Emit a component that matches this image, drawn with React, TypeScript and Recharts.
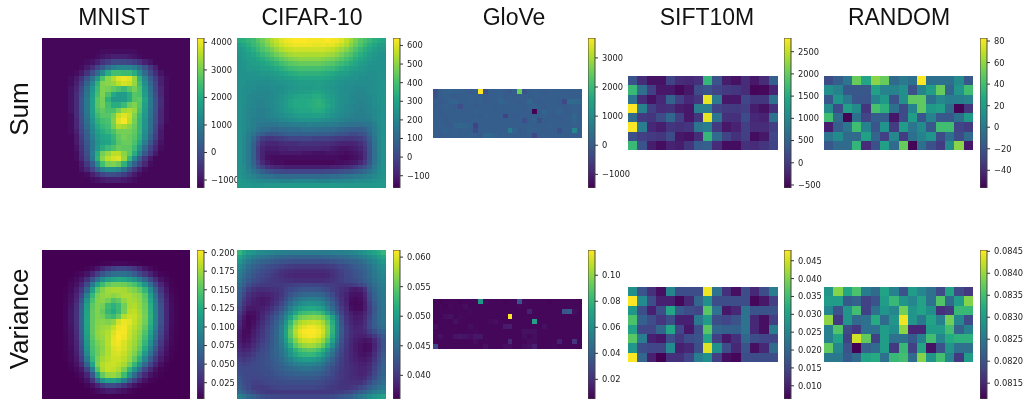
import {
  Bar,
  BarChart,
  ReferenceArea,
  Scatter,
  ScatterChart,
  XAxis,
  YAxis,
} from "recharts";

// heat values are stored in the units given by each panel's `unit`

const mnistSum = [
  [-12,-12,-12,-12,-12,-12,-12,-12,-12,-12,-12,-12,-12,-12,-12,-12,-12,-12,-12,-12,-12,-12,-12,-12,-12,-12,-12,-12],
  [-12,-12,-12,-12,-12,-12,-12,-12,-12,-12,-12,-12,-12,-12,-12,-12,-12,-12,-12,-12,-12,-12,-12,-12,-12,-12,-12,-12],
  [-12,-12,-12,-12,-12,-12,-12,-12,-12,-12,-12,-11,-11,-11,-11,-11,-11,-11,-12,-12,-12,-12,-12,-12,-12,-12,-12,-12],
  [-12,-12,-12,-12,-12,-12,-12,-12,-12,-12,-11,-10,-9,-8,-8,-8,-9,-10,-11,-12,-12,-12,-12,-12,-12,-12,-12,-12],
  [-12,-12,-12,-12,-12,-12,-12,-12,-11,-10,-8,-5,-3,-1,-1,-1,-2,-3,-5,-8,-10,-12,-12,-12,-12,-12,-12,-12],
  [-12,-12,-12,-12,-12,-12,-12,-11,-9,-6,-2,2,7,10,12,12,12,10,6,1,-4,-8,-12,-12,-12,-12,-12,-12],
  [-12,-12,-12,-12,-12,-12,-11,-9,-5,0,6,13,21,25,25,24,24,21,14,6,-1,-6,-10,-12,-12,-12,-12,-12],
  [-12,-12,-12,-12,-12,-11,-9,-5,1,8,16,26,32,35,39,40,39,33,22,12,3,-3,-8,-11,-12,-12,-12,-12],
  [-12,-12,-12,-12,-12,-11,-8,-3,4,12,22,31,32,33,36,38,37,33,24,14,5,-2,-8,-11,-12,-12,-12,-12],
  [-12,-12,-12,-12,-12,-10,-7,-1,7,15,24,31,30,28,26,24,27,30,26,16,7,-1,-7,-11,-12,-12,-12,-12],
  [-12,-12,-12,-12,-12,-10,-6,0,8,17,25,31,26,20,17,17,21,27,26,17,8,0,-7,-11,-12,-12,-12,-12],
  [-12,-12,-12,-12,-12,-10,-6,1,9,18,27,30,22,16,16,17,21,27,28,19,9,1,-6,-11,-12,-12,-12,-12],
  [-12,-12,-12,-12,-12,-10,-6,1,9,18,27,30,25,21,21,24,29,31,27,18,9,1,-6,-11,-12,-12,-12,-12],
  [-12,-12,-12,-12,-12,-10,-6,1,9,18,26,28,26,26,30,34,35,33,26,17,8,1,-7,-11,-12,-12,-12,-12],
  [-12,-12,-12,-12,-12,-11,-6,0,8,17,24,27,27,30,37,39,37,31,24,16,8,0,-7,-11,-12,-12,-12,-12],
  [-12,-12,-12,-12,-12,-11,-7,0,7,15,22,25,26,31,39,41,36,30,23,15,7,0,-7,-11,-12,-12,-12,-12],
  [-12,-12,-12,-12,-12,-11,-7,-1,6,13,20,23,25,30,35,34,32,29,23,15,7,-1,-8,-12,-12,-12,-12,-12],
  [-12,-12,-12,-12,-12,-11,-8,-2,4,12,18,21,23,26,30,30,30,28,23,14,6,-2,-9,-12,-12,-12,-12,-12],
  [-12,-12,-12,-12,-12,-12,-9,-3,3,10,16,19,20,23,28,30,29,27,22,13,4,-3,-9,-12,-12,-12,-12,-12],
  [-12,-12,-12,-12,-12,-12,-9,-4,2,9,15,18,19,22,27,29,29,26,20,10,2,-5,-10,-12,-12,-12,-12,-12],
  [-12,-12,-12,-12,-12,-12,-10,-5,1,9,16,21,24,26,29,28,28,24,15,6,-2,-7,-11,-12,-12,-12,-12,-12],
  [-12,-12,-12,-12,-12,-12,-11,-6,0,10,21,30,33,36,36,32,28,21,11,2,-4,-9,-12,-12,-12,-12,-12,-12],
  [-12,-12,-12,-12,-12,-12,-11,-7,-1,9,22,32,36,38,39,33,23,12,3,-4,-9,-12,-12,-12,-12,-12,-12,-12],
  [-12,-12,-12,-12,-12,-12,-12,-9,-4,3,14,25,30,31,29,22,12,4,-2,-7,-11,-12,-12,-12,-12,-12,-12,-12],
  [-12,-12,-12,-12,-12,-12,-12,-10,-7,-2,5,11,14,14,12,7,1,-4,-8,-11,-12,-12,-12,-12,-12,-12,-12,-12],
  [-12,-12,-12,-12,-12,-12,-12,-12,-11,-8,-5,-2,0,0,-1,-3,-6,-9,-11,-12,-12,-12,-12,-12,-12,-12,-12,-12],
  [-12,-12,-12,-12,-12,-12,-12,-12,-12,-11,-10,-9,-8,-8,-8,-9,-10,-11,-12,-12,-12,-12,-12,-12,-12,-12,-12,-12],
  [-12,-12,-12,-12,-12,-12,-12,-12,-12,-12,-12,-12,-12,-12,-12,-12,-12,-12,-12,-12,-12,-12,-12,-12,-12,-12,-12,-12],
];

const mnistVar = [
  [3,3,3,3,3,3,3,3,3,3,3,3,3,3,3,3,3,3,3,3,3,3,3,3,3,3,3,3],
  [3,3,3,3,3,3,3,3,3,3,3,3,3,3,3,3,3,3,3,3,3,3,3,3,3,3,3,3],
  [3,3,3,3,3,3,3,3,3,3,3,5,6,7,7,7,6,5,4,3,3,3,3,3,3,3,3,3],
  [3,3,3,3,3,3,3,3,5,8,15,25,35,42,45,45,42,35,25,15,8,5,3,3,3,3,3,3],
  [3,3,3,3,3,3,5,8,14,25,40,55,68,75,78,78,72,62,48,35,22,12,6,4,3,3,3,3],
  [3,3,3,3,3,5,9,16,30,52,78,100,115,122,125,122,115,105,90,70,48,28,14,7,4,3,3,3],
  [3,3,3,3,3,7,13,24,48,85,118,140,155,160,160,158,152,145,130,105,75,45,24,11,5,3,3,3],
  [3,3,3,3,4,9,18,35,68,115,150,165,175,178,178,176,170,165,155,135,100,65,35,16,6,4,3,3],
  [3,3,3,3,5,11,22,45,90,135,162,170,172,168,172,178,178,172,168,150,115,78,42,19,8,4,3,3],
  [3,3,3,3,5,12,26,55,105,145,165,168,160,148,155,170,178,176,170,155,122,85,48,22,9,5,3,3],
  [3,3,3,3,6,14,30,62,115,152,165,160,140,130,140,160,178,180,172,158,128,90,52,24,10,5,3,3],
  [3,3,3,3,6,15,32,66,118,155,165,155,135,125,138,162,182,184,175,160,130,92,54,25,10,5,3,3],
  [3,3,3,3,6,15,32,68,120,155,165,160,145,140,155,180,188,186,178,162,132,94,55,25,10,5,3,3],
  [3,3,3,3,6,15,32,68,122,155,166,168,165,170,190,198,195,185,175,160,130,92,54,25,10,5,3,3],
  [3,3,3,3,6,14,30,66,120,155,168,172,175,185,198,200,190,182,172,155,125,88,50,24,9,5,3,3],
  [3,3,3,3,6,13,28,64,118,155,170,175,180,192,202,200,188,178,168,148,118,82,46,22,8,4,3,3],
  [3,3,3,3,5,12,26,60,115,152,168,172,182,195,203,198,186,176,165,142,110,75,42,20,8,4,3,3],
  [3,3,3,3,5,11,24,55,110,148,162,170,182,196,200,192,182,174,160,135,102,68,36,17,7,4,3,3],
  [3,3,3,3,5,10,22,50,105,145,158,168,180,192,196,190,180,170,155,125,90,58,30,14,6,4,3,3],
  [3,3,3,3,4,9,20,45,98,142,158,170,180,190,192,186,176,164,145,112,78,48,24,11,5,3,3,3],
  [3,3,3,3,4,8,17,38,85,135,162,175,182,188,188,182,172,155,130,95,62,36,18,8,4,3,3,3],
  [3,3,3,3,3,6,13,28,65,118,165,180,186,188,184,176,160,135,105,72,44,24,11,5,3,3,3,3],
  [3,3,3,3,3,4,8,17,42,88,148,178,186,184,178,162,135,105,75,45,26,13,6,4,3,3,3,3],
  [3,3,3,3,3,3,5,10,24,58,115,155,170,172,165,140,105,72,45,26,14,7,4,3,3,3,3,3],
  [3,3,3,3,3,3,3,6,14,32,70,105,118,120,110,88,60,40,24,13,6,4,3,3,3,3,3,3],
  [3,3,3,3,3,3,3,3,6,12,24,38,48,50,44,34,22,13,7,4,3,3,3,3,3,3,3,3],
  [3,3,3,3,3,3,3,3,3,5,9,14,18,18,15,11,7,4,3,3,3,3,3,3,3,3,3,3],
  [3,3,3,3,3,3,3,3,3,3,3,3,3,3,3,3,3,3,3,3,3,3,3,3,3,3,3,3],
];

const cifarSum = [
  [33,34,36,38,42,46,50,54,57,60,62,63,64,64,64,63,63,63,63,64,63,62,60,56,52,47,43,40,37,34,32,31],
  [29,31,34,37,40,44,48,52,55,58,60,61,62,62,62,62,61,61,62,61,61,59,57,54,49,45,41,37,34,31,28,28],
  [26,28,31,34,37,41,44,47,51,54,56,57,58,58,58,58,58,58,58,57,56,54,52,49,45,41,37,34,31,28,26,26],
  [25,27,29,31,34,37,40,43,46,49,51,53,54,54,54,54,54,54,54,53,52,50,47,44,41,37,34,31,28,26,25,24],
  [24,26,28,29,31,33,36,38,41,44,46,48,49,50,50,50,50,50,49,48,47,45,43,40,37,34,31,29,27,25,24,24],
  [24,25,27,28,29,30,32,34,36,39,41,43,44,45,45,45,45,45,44,43,42,40,38,36,33,31,28,27,25,24,24,24],
  [24,25,26,26,27,28,29,30,32,34,36,38,39,40,40,40,40,40,39,38,37,35,33,31,29,28,26,25,24,24,24,24],
  [24,24,25,25,25,26,26,27,28,30,31,33,34,35,35,35,35,35,34,33,32,30,29,28,26,25,24,24,23,23,24,24],
  [24,24,24,24,24,24,24,25,26,27,28,29,30,31,31,31,31,31,31,30,29,27,26,25,24,24,23,23,22,23,24,24],
  [24,24,23,23,22,22,22,23,24,25,25,26,27,28,28,28,28,29,28,27,26,25,24,23,23,22,22,22,22,23,24,25],
  [24,23,22,22,21,21,21,22,22,23,24,25,26,27,27,27,28,28,27,26,25,24,23,22,22,21,21,21,22,23,24,25],
  [24,23,22,21,20,20,20,21,22,23,24,26,27,28,28,29,30,30,29,27,26,24,23,22,21,21,20,21,22,23,24,25],
  [24,23,21,20,20,20,20,21,22,24,26,28,30,31,31,31,33,33,31,29,27,25,23,22,21,20,20,20,21,22,24,25],
  [24,23,21,20,19,19,20,21,23,25,27,30,32,32,32,33,34,35,33,30,28,25,23,22,21,20,19,20,21,22,24,25],
  [24,22,21,20,19,19,20,21,22,25,27,30,32,32,32,33,34,35,34,31,28,25,23,21,20,19,19,19,20,22,23,25],
  [24,22,20,19,18,18,19,20,22,24,26,28,30,31,31,31,33,33,32,29,26,24,22,21,20,19,18,19,20,21,23,24],
  [24,22,20,19,18,18,19,20,21,22,24,25,27,28,28,28,29,29,28,26,24,22,21,20,19,18,18,18,19,21,23,24],
  [24,22,20,18,17,17,17,18,19,20,21,22,23,24,24,24,24,24,23,22,21,20,19,18,17,17,17,17,18,20,22,24],
  [24,22,20,18,16,15,15,15,15,16,16,17,18,18,18,19,18,18,18,17,17,16,15,14,13,13,13,14,15,18,22,24],
  [24,22,19,17,14,12,11,10,10,11,11,12,12,12,13,13,13,12,12,11,11,10,9,8,7,7,7,9,12,17,21,24],
  [24,21,18,14,10,7,5,4,5,6,7,8,8,8,8,8,8,7,7,7,6,5,4,3,2,2,3,5,10,16,21,24],
  [24,21,17,11,4,-2,-4,-4,-3,-2,-1,0,0,0,0,0,-1,-1,-1,-1,-2,-3,-3,-4,-4,-3,-2,1,7,15,21,24],
  [24,21,16,9,0,-6,-8,-8,-8,-7,-6,-6,-6,-5,-5,-5,-5,-5,-6,-6,-7,-8,-9,-9,-9,-8,-6,-2,5,14,20,24],
  [24,21,16,8,-2,-8,-10,-10,-10,-9,-9,-8,-8,-8,-8,-8,-8,-8,-9,-9,-10,-11,-12,-12,-11,-10,-8,-4,4,13,20,24],
  [24,21,16,8,-2,-9,-12,-12,-12,-11,-11,-11,-11,-11,-12,-12,-13,-13,-13,-12,-12,-13,-13,-14,-13,-12,-10,-5,3,13,20,24],
  [24,21,16,8,-2,-9,-13,-14,-14,-14,-14,-14,-14,-14,-14,-14,-14,-14,-14,-14,-14,-14,-15,-15,-14,-13,-11,-5,3,13,20,24],
  [24,21,16,9,0,-7,-11,-13,-14,-14,-15,-15,-15,-15,-15,-15,-15,-15,-15,-15,-15,-14,-14,-13,-12,-11,-8,-3,5,14,20,24],
  [24,22,17,11,4,-1,-5,-7,-8,-9,-10,-10,-10,-10,-10,-10,-10,-10,-10,-10,-9,-9,-8,-7,-5,-3,0,3,9,16,21,24],
  [24,22,19,15,11,8,5,3,2,1,0,0,0,0,0,0,0,0,0,1,1,2,3,4,5,7,9,11,14,18,22,24],
  [25,23,21,19,17,15,14,13,12,11,11,11,11,11,11,11,11,11,11,11,12,12,13,14,15,16,17,18,19,21,23,25],
  [26,25,24,22,21,21,20,20,20,19,19,19,20,20,20,20,20,19,19,19,20,20,20,21,21,22,22,22,23,24,25,26],
  [27,26,26,25,25,25,26,26,26,27,27,27,27,27,27,27,27,27,27,27,27,27,26,26,26,26,26,26,26,26,26,27],
];

const cifarVar = [
  [525,510,495,490,480,478,476,474,470,468,466,465,464,464,464,464,464,464,464,465,466,467,468,470,474,478,484,490,498,505,515,525],
  [505,490,478,468,462,458,454,450,446,444,442,441,440,440,440,440,440,440,441,442,444,446,448,450,454,458,464,470,478,488,500,510],
  [490,475,462,452,446,440,436,432,428,425,423,421,420,420,420,420,420,420,420,421,423,426,430,434,438,442,448,456,464,474,486,495],
  [478,464,450,440,434,428,422,418,414,410,406,404,402,402,402,402,402,402,402,404,406,410,414,420,426,432,438,446,454,466,478,485],
  [470,456,442,432,426,420,414,410,404,398,394,392,390,390,390,390,390,390,390,392,396,402,408,414,420,426,432,440,450,462,474,480],
  [464,450,436,426,420,415,410,404,400,395,390,388,386,386,386,386,386,386,386,388,394,400,406,412,418,424,430,438,448,460,470,476],
  [458,444,430,420,414,410,406,402,400,398,396,394,392,392,392,392,392,392,392,394,398,402,406,412,416,420,426,434,444,456,466,472],
  [450,436,420,410,405,402,402,402,402,402,404,406,408,410,410,410,410,410,408,406,404,402,400,400,402,406,412,422,436,450,462,468],
  [442,424,406,396,392,392,392,394,396,400,408,414,420,424,426,426,426,424,420,414,406,400,394,390,380,378,382,396,428,444,458,464],
  [436,414,396,388,384,382,384,386,392,400,412,424,434,440,444,446,446,444,438,428,414,402,392,384,374,372,374,388,420,440,456,462],
  [430,406,390,382,378,376,378,384,392,404,420,436,450,458,464,468,468,464,456,442,426,408,394,382,370,368,370,382,414,436,452,460],
  [424,400,386,380,378,376,380,388,398,412,430,450,468,478,484,488,488,484,474,456,436,416,398,384,368,366,368,380,408,432,450,458],
  [414,392,378,376,378,380,386,396,408,424,444,466,488,500,508,512,512,506,494,472,448,424,404,388,370,368,368,380,404,428,448,458],
  [404,384,370,370,376,384,394,406,420,438,460,484,510,526,534,538,540,536,522,498,468,436,410,392,380,374,376,386,406,430,450,458],
  [396,376,364,368,376,388,402,414,430,450,476,506,536,554,562,566,568,566,556,536,504,460,422,398,384,378,380,390,410,432,450,458],
  [392,372,364,370,380,392,406,420,436,458,490,528,562,578,586,590,592,588,576,552,516,466,426,400,386,380,382,394,414,434,450,456],
  [386,370,366,374,384,396,410,424,440,466,500,540,576,592,600,606,606,600,588,562,522,470,430,404,390,384,386,396,414,432,446,452],
  [380,368,368,378,388,400,412,426,444,470,506,548,584,602,610,612,612,606,592,564,522,470,430,406,392,386,386,392,406,420,434,442],
  [378,368,370,380,390,402,414,428,444,470,506,546,580,598,606,610,608,602,586,558,516,466,428,404,390,384,382,382,390,402,418,430],
  [380,370,374,384,394,406,416,428,444,466,498,534,564,584,592,596,594,586,570,542,504,458,424,402,388,380,376,372,376,388,408,424],
  [384,376,380,390,400,410,420,430,444,460,486,516,546,562,572,576,574,566,548,520,484,446,418,400,386,378,372,368,370,384,406,424],
  [390,384,388,398,406,414,422,432,444,456,474,496,520,536,544,548,546,536,518,492,462,434,412,398,386,378,372,368,370,386,408,426],
  [398,392,396,404,412,418,424,432,442,454,470,488,508,520,524,526,524,514,498,476,452,428,410,396,386,380,374,372,376,392,412,430],
  [406,400,404,410,416,420,424,430,438,448,460,472,486,494,498,498,496,488,474,456,438,420,406,396,388,382,378,376,382,398,418,434],
  [412,408,410,414,418,420,424,428,434,442,450,458,466,472,474,474,472,466,456,442,428,414,404,396,390,386,382,382,388,404,422,438],
  [418,414,414,416,418,420,422,426,430,436,442,446,450,454,456,456,454,450,442,432,420,410,402,396,392,388,384,384,392,408,426,440],
  [422,416,414,414,416,418,420,422,426,430,434,436,438,440,442,442,440,436,430,424,414,406,400,396,392,388,384,386,396,412,430,442],
  [426,418,414,412,412,414,416,418,422,424,426,428,428,430,430,430,430,426,422,416,410,404,400,396,392,390,388,392,404,420,436,446],
  [430,420,412,408,408,410,412,414,416,418,420,420,420,420,420,420,420,418,414,410,406,402,398,396,394,394,396,404,418,432,444,452],
  [436,424,414,406,404,404,406,408,410,412,412,412,412,412,412,412,412,410,408,404,402,400,398,398,400,404,412,422,434,446,456,462],
  [448,436,424,414,408,404,402,402,402,402,402,402,402,402,402,402,402,402,402,402,402,404,406,410,416,424,434,444,454,464,472,478],
  [470,458,446,436,428,422,418,416,414,412,412,412,412,412,412,412,412,412,414,416,418,422,426,432,440,450,460,470,480,490,498,505],
];

const gloveSum = [
  [-20,5,15,15,10,10,5,0,5,368,-20,5,5,10,0,-5,5,250,-15,5,10,5,0,5,5,5,5,5,5,5],
  [-15,5,10,5,0,5,5,10,5,5,0,5,5,10,0,5,0,5,5,5,5,5,5,5,5,5,5,0,5,5],
  [5,0,5,15,20,5,5,10,5,10,0,5,5,20,10,5,5,0,5,25,5,0,5,5,5,0,-35,30,30,25],
  [0,5,10,5,0,-25,5,5,0,5,5,5,0,5,5,5,5,5,0,10,15,5,0,5,5,5,0,5,10,5],
  [5,0,5,5,5,5,0,5,10,5,5,5,5,5,0,5,5,5,5,5,-146,5,20,5,5,15,5,0,10,5],
  [5,5,0,5,5,5,5,5,5,0,10,5,5,5,-45,5,0,5,5,5,5,5,10,5,0,5,5,5,25,5],
  [5,5,0,5,5,10,5,5,5,5,5,5,5,5,5,5,5,5,-20,5,15,-20,5,5,5,0,5,5,20,5],
  [5,10,5,0,20,25,20,10,-45,5,5,5,5,5,5,5,5,5,5,10,5,5,5,10,5,5,5,5,10,5],
  [5,5,15,5,10,5,10,5,-30,5,5,5,5,5,5,70,20,0,5,15,10,5,5,5,5,-20,5,5,90,5],
  [5,0,5,5,5,5,5,10,5,0,25,25,15,5,10,5,5,5,5,10,-35,5,10,5,5,5,5,5,5,5],
];

const gloveVar = [
  [7,6,7,7,7,6,7,7,7,65,8,7,7,7,6,7,7,35,8,7,7,7,7,6,7,7,7,7,7,7],
  [7,7,6,8,7,7,9,7,7,7,7,7,7,7,7,7,7,8,7,7,7,7,7,7,7,7,7,7,7,7],
  [7,7,7,7,7,7,7,8,7,7,7,7,7,7,7,7,7,7,7,15,7,7,7,7,7,7,35,38,9,7],
  [7,7,9,10,7,8,7,7,7,7,7,7,7,7,7,119,7,7,7,7,7,7,7,7,7,7,7,7,7,7],
  [6,7,7,7,10,7,7,7,7,7,7,8,9,7,7,7,7,7,7,7,70,7,7,7,7,7,7,7,7,7],
  [9,7,7,7,7,7,7,9,7,7,7,7,7,7,13,14,7,7,7,7,7,7,10,7,7,7,7,7,7,7],
  [7,7,7,7,7,7,7,7,8,7,7,7,7,7,7,7,7,7,10,10,10,7,7,7,7,7,7,7,7,7],
  [7,10,7,7,11,12,11,9,12,12,7,7,7,7,7,7,7,7,9,7,9,7,7,7,7,7,7,7,7,7],
  [7,7,7,7,7,7,7,7,9,7,7,7,7,7,7,18,7,7,7,9,9,7,7,7,7,15,7,7,22,7],
  [30,7,7,7,7,7,7,7,7,7,10,7,7,7,9,9,7,7,9,10,15,7,7,7,8,7,7,7,7,7],
];

const siftSum = [
  [30,-15,-40,-40,10,-15,-20,-10,165,30,-30,-40,-15,-35,-15,45],
  [170,65,5,-35,-35,-50,-35,20,30,10,0,-5,-15,-52,-50,-25],
  [70,-15,-40,-20,50,5,-20,-5,268,80,-35,-35,15,-5,-5,70],
  [280,90,5,-15,-10,-30,-35,85,85,10,0,0,5,-30,-40,-10],
  [60,0,-5,20,55,5,-35,-5,268,75,-10,-10,20,-20,-25,70],
  [280,85,-20,-30,-5,-10,-5,75,85,0,-35,-25,5,-15,-15,5],
  [25,5,0,-5,20,-35,-40,-15,165,60,10,-10,5,-45,-35,15],
  [170,30,-30,-45,-25,-30,-5,40,45,-15,-45,-45,-10,-15,-5,10],
];

const siftVar = [
  [270,170,120,80,250,160,160,160,470,220,120,80,160,110,160,240],
  [480,260,160,100,100,70,110,200,270,160,160,160,160,70,90,140],
  [280,160,100,160,310,180,160,150,370,220,90,110,220,170,170,170],
  [360,190,160,130,160,100,100,230,290,160,150,170,220,110,80,140],
  [300,150,150,200,310,150,90,160,370,200,190,190,220,110,80,240],
  [370,240,100,90,160,130,160,170,310,140,90,120,200,160,150,150],
  [280,160,150,150,260,100,110,160,460,270,160,110,170,80,110,210],
  [480,200,100,63,120,120,150,240,270,140,80,70,160,160,160,160],
];

const randomSum = [
  [-25,-15,-2,50,25,58,50,-8,0,-5,83,-5,-5,-5,10,-18],
  [12,5,-18,-18,-18,22,5,5,12,-22,5,20,50,-12,15,40],
  [-18,15,0,-20,-20,5,18,-22,12,48,48,-5,8,2,2,5],
  [10,-25,22,10,-35,42,32,-5,-25,5,48,18,22,-8,-55,-35],
  [40,-8,-55,-5,-28,-15,-15,-48,-25,20,-20,5,-18,-18,-5,18],
  [-45,-15,-2,40,5,-20,15,-32,20,-2,10,-18,40,40,-28,-32],
  [-2,10,-8,-8,22,-12,-30,8,-32,-5,5,15,-25,-5,-25,-8],
  [-18,-8,-8,35,-40,-22,22,-8,50,-55,-5,-22,-32,10,58,-48],
];

const randomVar = [
  [8290,8390,8315,8355,8255,8230,8310,8260,8200,8300,8270,8240,8190,8310,8190,8170],
  [8300,8300,8210,8220,8180,8200,8300,8340,8290,8270,8310,8240,8360,8230,8300,8390],
  [8270,8200,8290,8350,8180,8240,8290,8270,8380,8290,8310,8280,8160,8170,8340,8340],
  [8395,8170,8290,8230,8240,8320,8230,8290,8445,8290,8250,8310,8260,8380,8270,8190],
  [8260,8360,8190,8170,8240,8240,8300,8280,8395,8150,8150,8300,8300,8350,8220,8260],
  [8260,8310,8180,8430,8370,8180,8300,8240,8240,8210,8260,8350,8270,8320,8330,8330],
  [8370,8270,8200,8115,8220,8230,8300,8170,8340,8180,8310,8130,8200,8290,8240,8240],
  [8250,8250,8210,8230,8310,8320,8240,8340,8350,8230,8390,8290,8350,8270,8170,8300],
];

const titles = ["MNIST", "CIFAR-10", "GloVe", "SIFT10M", "RANDOM"];
const rowNames = ["Sum", "Variance"];

const mnistSumTicks = [-1000, 0, 1000, 2000, 3000, 4000];
const cifarSumTicks = [-100, 0, 100, 200, 300, 400, 500, 600];
const gloveSumTicks = [-1000, 0, 1000, 2000, 3000];
const siftSumTicks = [-500, 0, 500, 1000, 1500, 2000, 2500];
const randomSumTicks = [-40, -20, 0, 20, 40, 60, 80];
const mnistVarTicks = [0.025, 0.05, 0.075, 0.1, 0.125, 0.15, 0.175, 0.2];
const cifarVarTicks = [0.04, 0.045, 0.05, 0.055, 0.06];
const gloveVarTicks = [0.02, 0.04, 0.06, 0.08, 0.1];
const siftVarTicks = [0.01, 0.015, 0.02, 0.025, 0.03, 0.035, 0.04, 0.045];
const randomVarTicks = [0.0815, 0.082, 0.0825, 0.083, 0.0835, 0.084, 0.0845];

const viridis = ["#440154", "#482475", "#414487", "#355f8d", "#2a788e", "#21918c", "#22a884", "#44bf70", "#7ad151", "#bddf26", "#fde725"];

const columnsX = [
  { x: 42, w: 148, bar: 197, center: 114 },
  { x: 237, w: 149, bar: 393, center: 312 },
  { x: 433, w: 149, bar: 588, center: 514 },
  { x: 628, w: 150, bar: 784, center: 707 },
  { x: 824, w: 149, bar: 980, center: 899 },
];

const sumRow = { barY: 38, barH: 150 };
const varRow = { barY: 250, barH: 149 };

const panels = [
  { col: 0, row: sumRow, y: 38, h: 150, rows: mnistSum, unit: 100, domain: [-1290, 4160], ticks: mnistSumTicks, digits: 0 },
  { col: 1, row: sumRow, y: 38, h: 150, rows: cifarSum, unit: 10, domain: [-166, 640], ticks: cifarSumTicks, digits: 0 },
  { col: 2, row: sumRow, y: 89, h: 49, rows: gloveSum, unit: 10, domain: [-1468, 3684], ticks: gloveSumTicks, digits: 0 },
  { col: 3, row: sumRow, y: 76, h: 74, rows: siftSum, unit: 10, domain: [-568, 2808], ticks: siftSumTicks, digits: 0 },
  { col: 4, row: sumRow, y: 76, h: 74, rows: randomSum, unit: 1, domain: [-56.4, 82.8], ticks: randomSumTicks, digits: 0 },
  { col: 0, row: varRow, y: 250, h: 149, rows: mnistVar, unit: 0.001, domain: [0.0031, 0.2035], ticks: mnistVarTicks, digits: 3 },
  { col: 1, row: varRow, y: 250, h: 149, rows: cifarVar, unit: 0.0001, domain: [0.036, 0.0612], ticks: cifarVarTicks, digits: 3 },
  { col: 2, row: varRow, y: 299, h: 50, rows: gloveVar, unit: 0.001, domain: [0.0049, 0.1194], ticks: gloveVarTicks, digits: 2 },
  { col: 3, row: varRow, y: 287, h: 75, rows: siftVar, unit: 0.0001, domain: [0.0063, 0.048], ticks: siftVarTicks, digits: 3 },
  { col: 4, row: varRow, y: 287, h: 75, rows: randomVar, unit: 0.00001, domain: [0.08114, 0.08453], ticks: randomVarTicks, digits: 4 },
];

const hexToRgb = (hex: string) => [1, 3, 5].map((i) => parseInt(hex.slice(i, i + 2), 16));

const colorAt = (t: number) => {
  const pos = Math.min(1, Math.max(0, t)) * (viridis.length - 1);
  const i = Math.min(Math.floor(pos), viridis.length - 2);
  const a = hexToRgb(viridis[i]);
  const b = hexToRgb(viridis[i + 1]);
  const mix = a.map((v, k) => Math.round(v + (b[k] - v) * (pos - i)));
  return `rgb(${mix.join(",")})`;
};

const Heatmap = ({ panel }: any) => {
  const { x, w } = columnsX[panel.col];
  const { y, h, rows, unit, domain } = panel;
  const nRows = rows.length;
  const nCols = rows[0].length;
  const cellW = w / nCols;
  const cellH = h / nRows;
  const cells = rows.flatMap((row: number[], r: number) =>
    row.map((value, c) => ({ col: c + 0.5, row: r + 0.5, value: value * unit }))
  );

  const drawCell = (p: any) => (
    <rect
      x={p.cx - cellW / 2}
      y={p.cy - cellH / 2}
      width={cellW + 0.01}
      height={cellH + 0.01}
      shapeRendering="crispEdges"
      fill={colorAt((p.payload.value - domain[0]) / (domain[1] - domain[0]))}
    />
  );

  return (
    <div style={{ position: "absolute", left: x, top: y, filter: "blur(0.4px)" }}>
      <ScatterChart width={w} height={h} margin={{ top: 0, right: 0, bottom: 0, left: 0 }}>
        <XAxis type="number" dataKey="col" domain={[0, nCols]} hide />
        <YAxis type="number" dataKey="row" domain={[0, nRows]} reversed hide />
        <Scatter data={cells} isAnimationActive={false} shape={drawCell} />
        <ReferenceArea x1={0} x2={nCols} y1={0} y2={nRows} fill="none" stroke="#c9c3d6" strokeWidth={1} />
      </ScatterChart>
    </div>
  );
};

const AXIS_W = 50;
const BAR_W = 7;
const BAR_PAD = 8; // room above and below the bar so end tick labels are not cut

const ColorBar = ({ panel, id }: any) => {
  const { bar } = columnsX[panel.col];
  const { barY, barH } = panel.row;
  const { domain, ticks, digits } = panel;
  const formatTick = (v: number) => (v < 0 ? "\u2212" : "") + Math.abs(v).toFixed(digits);

  return (
    <div style={{ position: "absolute", left: bar, top: barY - BAR_PAD }}>
      <BarChart
        width={BAR_W + AXIS_W}
        height={barH + BAR_PAD * 2}
        data={[{ name: "scale", range: domain }]}
        margin={{ top: BAR_PAD, right: 0, bottom: BAR_PAD, left: 0 }}
        barCategoryGap={0}
      >
        <defs>
          <linearGradient id={id} x1="0" y1="0" x2="0" y2="1">
            {[...viridis].reverse().map((c, i) => (
              <stop key={c} offset={`${i * 10}%`} stopColor={c} />
            ))}
          </linearGradient>
        </defs>
        <XAxis dataKey="name" hide />
        <YAxis
          orientation="right"
          type="number"
          width={AXIS_W}
          domain={domain}
          ticks={ticks}
          interval={0}
          allowDataOverflow
          axisLine={false}
          tickSize={3}
          tickMargin={4}
          tickLine={{ stroke: "#333" }}
          tickFormatter={formatTick}
          tick={{ fontSize: 8.3, fill: "#1c1c1c", fontFamily: "DejaVu Sans", textAnchor: "start" }}
        />
        <Bar dataKey="range" fill={`url(#${id})`} stroke="#444" strokeWidth={1} isAnimationActive={false} />
      </BarChart>
    </div>
  );
};

const labelFont = { position: "absolute", fontFamily: "Liberation Sans", color: "#111", lineHeight: 1, whiteSpace: "nowrap" } as const;

export default function App() {
  return (
    <div
      style={{
        position: "absolute",
        left: 0,
        top: 0,
        width: 1026,
        height: 402,
        overflow: "hidden",
        background: "#fff",
        filter: "blur(0.45px)",
      }}
    >
      {titles.map((t, i) => (
        <div key={t} style={{ ...labelFont, fontSize: 23, top: 5.5, left: columnsX[i].center, transform: "translateX(-50%)" }}>
          {t}
        </div>
      ))}
      {rowNames.map((t, i) => (
        <div
          key={t}
          style={{
            ...labelFont,
            fontSize: 26,
            left: 19,
            top: i === 0 ? 109 : 319,
            transform: "translate(-50%, -50%) rotate(-90deg)",
          }}
        >
          {t}
        </div>
      ))}
      {panels.map((p, i) => (
        <div key={i}>
          <ColorBar panel={p} id={`cbar${i}`} />
          <Heatmap panel={p} />
        </div>
      ))}
    </div>
  );
}
